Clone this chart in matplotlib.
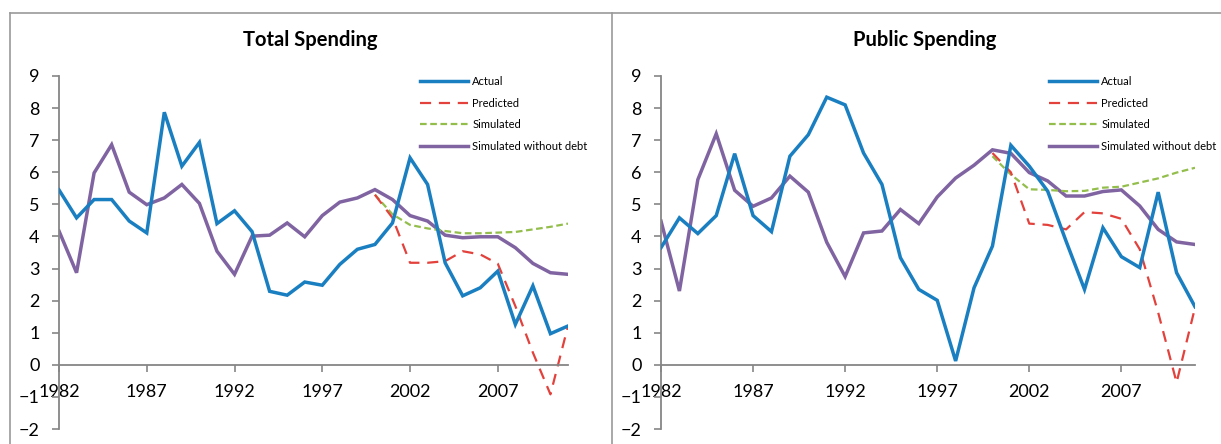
import matplotlib
matplotlib.use("Agg")
import matplotlib.pyplot as plt
import numpy as np

years = np.arange(1982, 2012)
nan = np.nan

# Total Spending
total_actual = [5.45, 4.58, 5.15, 5.15, 4.48, 4.11, 7.87, 6.19, 6.93, 4.40,
                4.80, 4.15, 2.29, 2.17, 2.58, 2.48, 3.13, 3.60, 3.75, 4.42,
                6.45, 5.62, 3.18, 2.15, 2.40, 2.92, 1.26, 2.46, 0.97, 1.21]
total_predicted = [nan] * 18 + [5.30, 4.58, 3.18, 3.18, 3.23, 3.54, 3.44, 3.15,
                                1.83, 0.38, -0.92, 1.21]
total_simulated = [nan] * 18 + [5.30, 4.69, 4.36, 4.25, 4.17, 4.10, 4.10, 4.12,
                                4.14, 4.22, 4.30, 4.40]
total_nodebt = [4.17, 2.87, 5.98, 6.86, 5.38, 4.99, 5.20, 5.62, 5.03, 3.54,
                2.82, 4.01, 4.04, 4.42, 3.99, 4.65, 5.07, 5.20, 5.46, 5.15,
                4.65, 4.48, 4.04, 3.96, 3.99, 3.99, 3.65, 3.16, 2.87, 2.82]

# Public Spending
public_actual = [3.65, 4.58, 4.09, 4.65, 6.58, 4.65, 4.15, 6.50, 7.17, 8.34,
                 8.10, 6.60, 5.62, 3.34, 2.35, 2.01, 0.12, 2.40, 3.70, 6.84,
                 6.19, 5.41, 3.85, 2.35, 4.27, 3.37, 3.03, 5.38, 2.87, 1.81]
public_predicted = [nan] * 18 + [6.60, 6.00, 4.40, 4.36, 4.22, 4.76, 4.72, 4.55,
                                 3.60, 1.63, -0.55, 1.78]
public_simulated = [nan] * 18 + [6.50, 5.93, 5.47, 5.45, 5.41, 5.42, 5.52, 5.55,
                                 5.68, 5.81, 5.99, 6.14]
public_nodebt = [4.48, 2.30, 5.77, 7.20, 5.44, 4.94, 5.20, 5.88, 5.38, 3.82,
                 2.75, 4.11, 4.17, 4.84, 4.40, 5.23, 5.82, 6.22, 6.70, 6.59,
                 5.99, 5.73, 5.26, 5.26, 5.40, 5.45, 4.95, 4.22, 3.83, 3.75]

labels = ["Actual", "Predicted", "Simulated", "Simulated without debt"]
colors = ["#1A7FC1", "#E2413C", "#93BE4C", "#8064A2"]

plt.rcParams["font.family"] = ["Lato", "DejaVu Sans"]

W, H = 1221, 444
fig = plt.figure(figsize=(W / 100, H / 100), dpi=100)

# chart area borders
gray = "#9A9A9A"
fig.add_artist(plt.Line2D([10 / W, 1], [1 - 13 / H, 1 - 13 / H], color=gray, lw=1.2))
fig.add_artist(plt.Line2D([10 / W, 10 / W], [0, 1 - 13 / H], color=gray, lw=1.2))
fig.add_artist(plt.Line2D([612 / W, 612 / W], [0, 1 - 13 / H], color=gray, lw=1.2))


def panel(rect, title, title_x, series, legend_x):
    ax = fig.add_axes(rect)
    styles = [dict(ls="-", lw=2.5),
              dict(ls=(0, (5, 3.5)), lw=1.6),
              dict(ls=(0, (3, 1.6)), lw=1.6),
              dict(ls="-", lw=2.5)]
    lines = {}
    for i in [3, 2, 1, 0]:
        ln, = ax.plot(years, series[i], color=colors[i], label=labels[i],
                      solid_joinstyle="miter", zorder=3 if i == 0 else 2, **styles[i])
        lines[i] = ln
    ax.set_xlim(1982, 2011)
    ax.set_ylim(-2, 9)
    ax.set_yticks(range(-2, 10))
    ax.set_xticks(range(1982, 2011, 5))
    for s in ["top", "right"]:
        ax.spines[s].set_visible(False)
    ax.spines["bottom"].set_position(("data", 0))
    for s in ["left", "bottom"]:
        ax.spines[s].set_color("#868686")
        ax.spines[s].set_linewidth(1.3)
    ax.tick_params(axis="y", direction="out", length=5, width=1.2, color="#868686",
                   pad=9, labelsize=13)
    ax.tick_params(axis="x", direction="out", length=5, width=1.2, color="#868686",
                   pad=9, labelsize=13)
    fig.text(title_x / W, 1 - 40 / H, title, ha="center", va="center",
             fontsize=14.5, fontweight="bold")
    ax.legend([lines[i] for i in range(4)], labels, loc="upper left",
              bbox_to_anchor=(legend_x / W, 1 - 76 / H), bbox_transform=fig.transFigure,
              frameon=False, fontsize=8, handlelength=4.3, handletextpad=0.4,
              labelspacing=0.95, borderpad=0, borderaxespad=0)
    return ax


bottom = 1 - 429 / H
height = (429 - 76) / H
panel([59 / W, bottom, (568 - 59) / W, height], "Total Spending", 310,
      [total_actual, total_predicted, total_simulated, total_nodebt], 420)
panel([661 / W, bottom, (1195 - 661) / W, height], "Public Spending", 925,
      [public_actual, public_predicted, public_simulated, public_nodebt], 1049)

fig.savefig("out.png", dpi=100)
